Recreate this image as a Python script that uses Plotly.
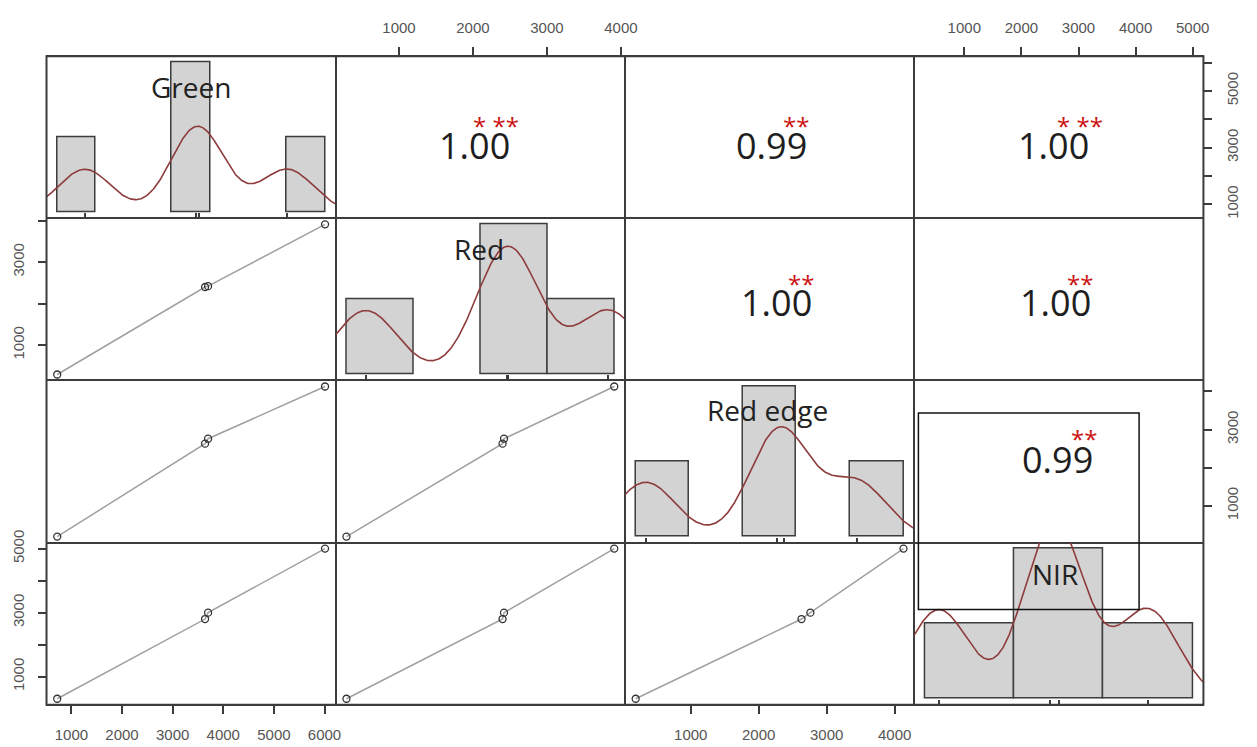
import numpy as np
import plotly.graph_objects as go

# ---------------- data ----------------
VARIABLES = ["Green", "Red", "Red edge", "NIR"]
GREEN = [720, 3640, 3700, 6010]
RED = [290, 2400, 2420, 3910]
RED_EDGE = [190, 2630, 2760, 4130]
NIR = [310, 2800, 3000, 5000]
DATA = [GREEN, RED, RED_EDGE, NIR]

# histogram breaks (start, end, size) for the diagonal panels
HIST_BREAKS = [(0, 7000, 1000), (0, 4000, 1000), (0, 5000, 1000), (0, 6000, 2000)]

# correlation text in the upper panels (row, col)
CORR_TEXT = {(0, 1): "1.00", (0, 2): "0.99", (0, 3): "1.00",
             (1, 2): "1.00", (1, 3): "1.00", (2, 3): "0.99"}
CORR_STARS = {(0, 1): "* **", (0, 2): "**", (0, 3): "* **",
              (1, 2): "**", (1, 3): "**", (2, 3): "**"}

# outer axis ticks
BOTTOM_TICKS = {0: [1000, 2000, 3000, 4000, 5000, 6000], 2: [1000, 2000, 3000, 4000]}
BOTTOM_LABELS = {0: ["1000", "2000", "3000", "4000", "5000", "6000"],
                 2: ["1000", "2000", "3000", "4000"]}
TOP_TICKS = {1: [1000, 2000, 3000, 4000], 3: [1000, 2000, 3000, 4000, 5000]}
TOP_LABELS = {1: ["1000", "2000", "3000", "4000"],
              3: ["1000", "2000", "3000", "4000", "5000"]}
LEFT_TICKS = {1: [1000, 2000, 3000, 4000], 3: [1000, 2000, 3000, 4000, 5000]}
LEFT_LABELS = {1: ["1000", "", "3000", ""], 3: ["1000", "", "3000", "", "5000"]}
RIGHT_TICKS = {0: [1000, 2000, 3000, 4000, 5000, 6000], 2: [1000, 2000, 3000, 4000]}
RIGHT_LABELS = {0: ["1000", "", "3000", "", "5000", ""], 2: ["1000", "", "3000", ""]}

# ---------------- layout geometry / style ----------------
W, H = 1257, 747
X0, CW = 47.0, 292.25
Y0, RH = 44.0, 165.0
LC = "#3c3c3c"
LW = 1.0
TICKFONT = dict(family="Liberation Sans, Arial, sans-serif", size=15, color="#555555")
BIGFONT = "Open Sans, sans-serif"

# relative positions inside upper panels (number x, number y, stars x, stars y)
CORR_POS = {(0, 1): (0.48, 0.45, 0.553, 0.57), (0, 2): (0.508, 0.45, 0.592, 0.57),
            (0, 3): (0.48, 0.45, 0.574, 0.57), (1, 2): (0.525, 0.48, 0.61, 0.598),
            (1, 3): (0.49, 0.48, 0.574, 0.598), (2, 3): (0.497, 0.515, 0.587, 0.64)}
DIAG_LABEL_POS = [(0.50, 0.81), (0.496, 0.81), (0.494, 0.82), (0.488, 0.807)]


def xdom(j):
    return [(X0 + j * CW) / W, (X0 + (j + 1) * CW) / W]


def ydom(i):
    return [1 - (Y0 + (i + 1) * RH) / H, 1 - (Y0 + i * RH) / H]


def pad_range(lo, hi, f=0.04):
    d = hi - lo
    return [lo - f * d, hi + f * d]


def bw_nrd0(x):
    x = np.asarray(x, float)
    sd = np.std(x, ddof=1)
    iqr = np.subtract(*np.percentile(x, [75, 25]))
    lo = min(sd, iqr / 1.34)
    return 0.9 * lo * len(x) ** (-0.2)


def kde(x):
    x = np.asarray(x, float)
    bw = bw_nrd0(x)
    grid = np.linspace(x.min() - 3 * bw, x.max() + 3 * bw, 512)
    dens = np.exp(-0.5 * ((grid[:, None] - x[None, :]) / bw) ** 2).sum(axis=1)
    dens /= len(x) * bw * np.sqrt(2 * np.pi)
    return grid, dens


fig = go.Figure()
layout = {}
annotations = []


def ax_name(prefix, k):
    return prefix + ("axis" if k == 1 else "axis%d" % k)


def ref(prefix, k):
    return prefix if k == 1 else "%s%d" % (prefix, k)


def note(text, x, y, k, font):
    annotations.append(dict(
        text=text, x=x, y=y, xref=ref("x", k) + " domain", yref=ref("y", k) + " domain",
        xanchor="center", yanchor="middle", showarrow=False, font=font))


data_ranges = [pad_range(min(v), max(v)) for v in DATA]

for i in range(4):
    for j in range(4):
        k = i * 4 + j + 1
        xa = dict(domain=xdom(j), anchor=ref("y", k), showline=True, mirror=True,
                  linecolor=LC, linewidth=LW, showgrid=False, zeroline=False,
                  ticks="", showticklabels=False, fixedrange=True)
        ya = dict(domain=ydom(i), anchor=ref("x", k), showline=True, mirror=True,
                  linecolor=LC, linewidth=LW, showgrid=False, zeroline=False,
                  ticks="", showticklabels=False, fixedrange=True)
        if i == j:
            v = DATA[i]
            s, e, size = HIST_BREAKS[i]
            edges = np.arange(s, e + size, size)
            counts, _ = np.histogram(v, bins=edges)
            dens = counts / (len(v) * size)
            xa["range"] = pad_range(s, e)
            ya["range"] = pad_range(0, dens.max())
            xa.update(ticks="inside", tickvals=v, ticklen=5, tickwidth=1.5, tickcolor=LC)
            fig.add_trace(go.Histogram(
                x=v, xbins=dict(start=s, end=e, size=size), histnorm="probability density",
                marker=dict(color="#d3d3d3", line=dict(color=LC, width=1.5)),
                xaxis=ref("x", k), yaxis=ref("y", k), showlegend=False))
            gx, gy = kde(v)
            fig.add_trace(go.Scatter(
                x=gx, y=gy, mode="lines", line=dict(color="#8e3b3b", width=1.6),
                xaxis=ref("x", k), yaxis=ref("y", k), showlegend=False))
            lx, ly = DIAG_LABEL_POS[i]
            note(VARIABLES[i], lx, ly, k, dict(family=BIGFONT, size=28, color="#222222"))
        else:
            xa["range"] = data_ranges[j]
            ya["range"] = data_ranges[i]
            if i > j:
                order = np.argsort(DATA[j])
                xs = [DATA[j][n] for n in order]
                ys = [DATA[i][n] for n in order]
                fig.add_trace(go.Scatter(
                    x=xs, y=ys, mode="lines", line=dict(color="#a0a0a0", width=1.5),
                    xaxis=ref("x", k), yaxis=ref("y", k), showlegend=False))
                fig.add_trace(go.Scatter(
                    x=DATA[j], y=DATA[i], mode="markers",
                    marker=dict(symbol="circle-open", size=7, color="#333333",
                                line=dict(width=1.3)),
                    xaxis=ref("x", k), yaxis=ref("y", k), showlegend=False))
            else:
                # empty trace so that the subplot (box and outer axes) is drawn
                fig.add_trace(go.Scatter(
                    x=[None], y=[None], mode="markers", hoverinfo="skip",
                    xaxis=ref("x", k), yaxis=ref("y", k), showlegend=False))
                nx, ny, sx, sy = CORR_POS[(i, j)]
                note(CORR_TEXT[(i, j)], nx, ny, k,
                     dict(family=BIGFONT, size=36, color="#1e1e1e"))
                note(CORR_STARS[(i, j)], sx, sy, k,
                     dict(family=BIGFONT, size=24, color="#cc1111"))
            tick_common = dict(ticks="outside", ticklen=8, tickwidth=1.5, tickcolor=LC,
                               showticklabels=True, tickfont=TICKFONT)
            if i == 3 and j in BOTTOM_TICKS:
                xa.update(tick_common, side="bottom", tickvals=BOTTOM_TICKS[j],
                          ticktext=BOTTOM_LABELS[j], ticklabelstandoff=8)
            if i == 0 and j in TOP_TICKS:
                xa.update(tick_common, side="top", tickvals=TOP_TICKS[j],
                          ticktext=TOP_LABELS[j], ticklabelstandoff=8)
            if j == 0 and i in LEFT_TICKS:
                ya.update(tick_common, side="left", tickvals=LEFT_TICKS[i],
                          ticktext=LEFT_LABELS[i], tickangle=-90, ticklabelstandoff=8)
            if j == 3 and i in RIGHT_TICKS:
                ya.update(tick_common, side="right", tickvals=RIGHT_TICKS[i],
                          ticktext=RIGHT_LABELS[i], tickangle=-90, ticklabelstandoff=8)
        layout[ax_name("x", k)] = xa
        layout[ax_name("y", k)] = ya

shapes = [dict(type="rect", xref="paper", yref="paper",
               x0=X0 / W, x1=(X0 + 4 * CW) / W, y0=1 - (Y0 + 4 * RH) / H, y1=1 - Y0 / H,
               line=dict(color=LC, width=2), fillcolor="rgba(0,0,0,0)"),
          dict(type="rect", xref="paper", yref="paper",
               x0=928 / W, x1=1151 / W, y0=1 - 607 / H, y1=1 - 407 / H,
               line=dict(color="#111111", width=1.5), fillcolor="rgba(0,0,0,0)")]

fig.update_layout(width=W, height=H, autosize=False,
                  margin=dict(l=0, r=0, t=0, b=0),
                  paper_bgcolor="white", plot_bgcolor="white",
                  bargap=0, annotations=annotations, shapes=shapes, **layout)

fig.write_html("out.html")
